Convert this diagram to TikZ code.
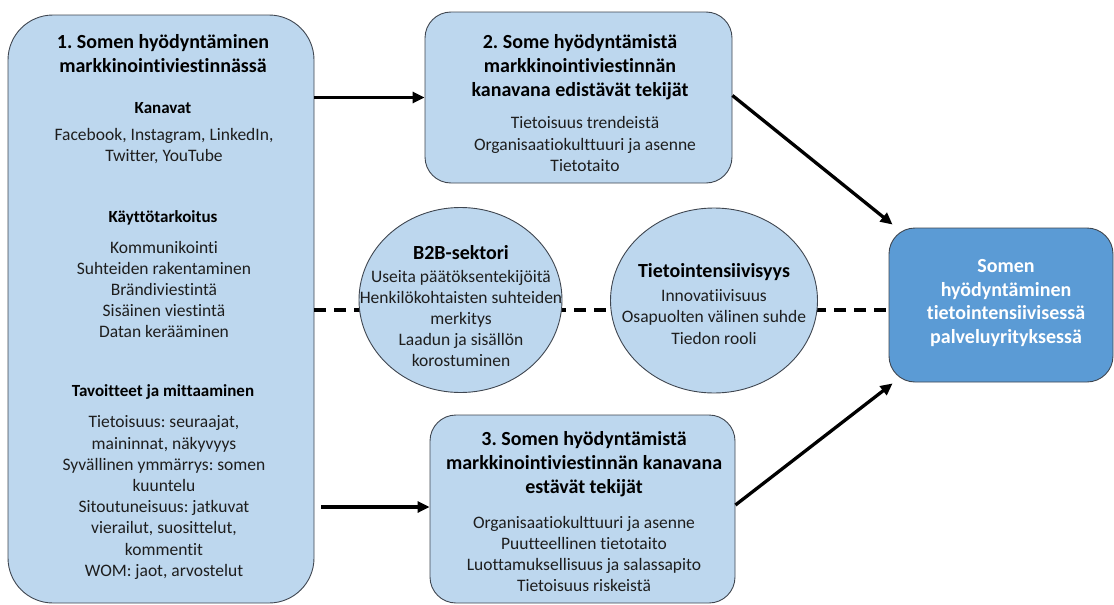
\documentclass[tikz,border=0pt]{standalone}
\usepackage{fontspec}
\setmainfont{Carlito}[Ligatures={NoCommon,NoRare,NoContextual}]
\frenchspacing
\usetikzlibrary{arrows.meta,shapes.geometric,calc}
\definecolor{lb}{HTML}{BDD7EE}
\definecolor{mb}{HTML}{5B9BD5}
\definecolor{bd}{HTML}{3F4650}
\definecolor{txtc}{HTML}{1E1E1E}
\tikzset{
  box/.style={draw=bd, line width=0.9pt, fill=lb, inner sep=0pt},
  ell/.style={ellipse, draw=bd, line width=0.9pt, fill=lb, inner sep=0pt},
  ttl/.style={align=center, inner sep=0pt, text=black, font=\fontsize{20}{24}\selectfont\bfseries},
  sub/.style={align=center, inner sep=0pt, text=black, font=\fontsize{17}{21}\selectfont\bfseries},
  txt/.style={align=center, inner sep=0pt, text=txtc, font=\fontsize{17.5}{21.2}\selectfont},
  arr/.style={line width=3.3pt, -{Triangle[length=12pt,width=11pt]}},
  dsh/.style={line width=3.2pt, dash pattern=on 12pt off 8pt},
}
\begin{document}
\begin{tikzpicture}[x=1pt,y=-1pt]
\useasboundingbox (0,0) rectangle (1114,605);
% boxes
\node[box, rounded corners=45pt, minimum width=306pt, minimum height=588pt] (b1) at (161,309) {};
\node[box, rounded corners=26pt, minimum width=307pt, minimum height=171pt] (b2) at (578.5,97.5) {};
\node[box, rounded corners=26pt, minimum width=305pt, minimum height=188pt] (b3) at (582.5,509) {};
\node[box, fill=mb, rounded corners=26pt, minimum width=224pt, minimum height=154pt] (b4) at (1001,305) {};
% dashed line
\coordinate (dy) at (600,310);
\draw[dsh] (b1.east |- dy) -- (b4.west |- dy);
% ellipses
\node[ell, minimum width=203pt, minimum height=185pt] (e1) at (460.5,300) {};
\node[ell, minimum width=207pt, minimum height=185pt] (e2) at (714,300.5) {};
% arrows
\draw[arr] (b1.east |- b2.west) -- (b2.west);
\draw[arr] ($(b1.east |- b3.west)+(7,-2)$) -- ($(b3.west)+(0,-2)$);
\draw[arr] ($(b2.east)+(0,-2)$) -- ($(b4.north west)+(4,-3)$);
\draw[arr] ($(b3.east)+(0,-4)$) -- ($(b4.south west)+(4,1)$);
% left box text
\node[ttl] (t1) at (163,54) {1. Somen hyödyntäminen\\markkinointiviestinnässä};
\node[sub] (s1) at (163,108) {Kanavat};
\node[txt] (x1) at (164,146) {Facebook, Instagram, LinkedIn,\\Twitter, YouTube};
\node[sub] (s2) at (163,218) {Käyttötarkoitus};
\node[txt] (x2) at (164,289.5) {Kommunikointi\\Suhteiden rakentaminen\\Brändiviestintä\\Sisäinen viestintä\\Datan kerääminen};
\node[sub] (s3) at (163,392) {Tavoitteet ja mittaaminen};
\node[txt] (x3) at (164,497.5) {Tietoisuus: seuraajat,\\maininnat, näkyvyys\\Syvällinen ymmärrys: somen\\kuuntelu\\Sitoutuneisuus: jatkuvat\\vierailut, suosittelut,\\kommentit\\WOM: jaot, arvostelut};
% box 2 text
\node[ttl] (t2) at (580,67) {2. Some hyödyntämistä\\markkinointiviestinnän\\kanavana edistävät tekijät};
\node[txt] (x4) at (585,144) {Tietoisuus trendeistä\\Organisaatiokulttuuri ja asenne\\Tietotaito};
% box 3 text
\node[ttl] (t3) at (584,464) {3. Somen hyödyntämistä\\markkinointiviestinnän kanavana\\estävät tekijät};
\node[txt] (x5) at (584,554) {Organisaatiokulttuuri ja asenne\\Puutteellinen tietotaito\\Luottamuksellisuus ja salassapito\\Tietoisuus riskeistä};
% ellipse texts
\node[ttl] (t4) at (461,253) {B2B-sektori};
\node[txt] (x6) at (461,318.5) {Useita päätöksentekijöitä\\Henkilökohtaisten suhteiden\\merkitys\\Laadun ja sisällön\\korostuminen};
\node[ttl] (t5) at (714,272) {Tietointensiivisyys};
\node[txt] (x7) at (714,317) {Innovatiivisuus\\Osapuolten välinen suhde\\Tiedon rooli};
% right box text
\node[ttl, text=white, font=\fontsize{20}{23.7}\selectfont\bfseries] (t6) at (1006,303) {Somen\\hyödyntäminen\\tietointensiivisessä\\palveluyrityksessä};
\end{tikzpicture}
\end{document}
